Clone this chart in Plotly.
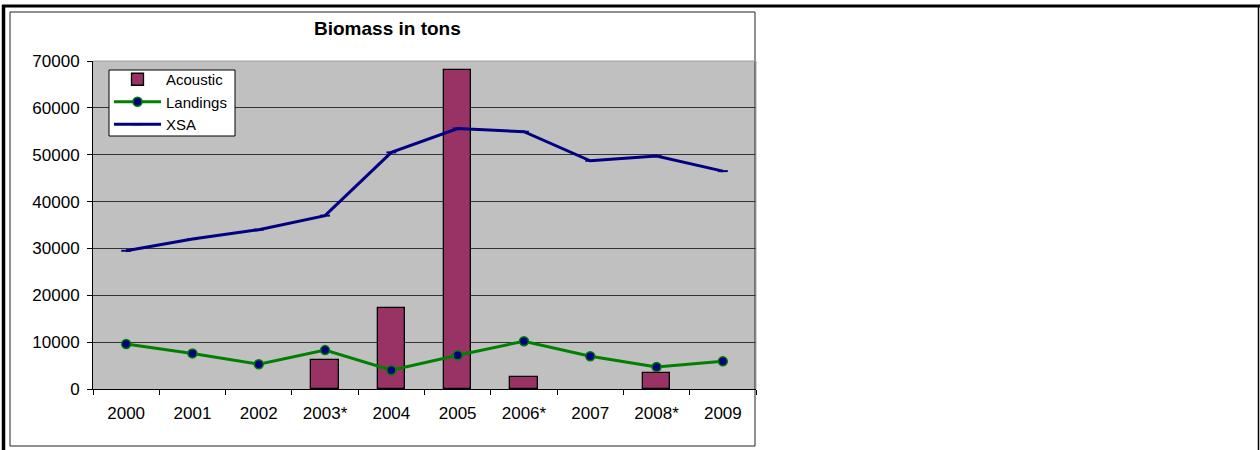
import plotly.graph_objects as go

years = ["2000", "2001", "2002", "2003*", "2004", "2005", "2006*", "2007", "2008*", "2009"]
acoustic = [None, None, None, 6200, 17200, 68000, 2600, None, 3500, None]
landings = [9600, 7600, 5300, 8300, 4000, 7200, 10200, 7000, 4700, 5900]
xsa = [29500, 32000, 34000, 37000, 50500, 55600, 54900, 48700, 49700, 46500]

W, H = 1260, 450
L, R, T, B = 93, 756, 61, 389  # plot area in pixels


def px(x):
    return (x - L) / (R - L)


def py(y):
    return (B - y) / (B - T)


FONT = "Liberation Sans, Arial, sans-serif"

fig = go.Figure()
fig.add_trace(go.Bar(
    x=years, y=acoustic, name="Acoustic", width=0.41,
    marker=dict(color="#993366", line=dict(color="black", width=1.3)),
))
fig.add_trace(go.Scatter(
    x=years, y=landings, name="Landings", mode="lines+markers",
    line=dict(color="#008000", width=3),
    marker=dict(symbol="circle", size=9, color="#000080",
                line=dict(color="#008000", width=1.5)),
))
fig.add_trace(go.Scatter(
    x=years, y=xsa, name="XSA", mode="lines+markers",
    line=dict(color="#000080", width=3),
    marker=dict(symbol="line-ew", size=7, color="#000080",
                line=dict(color="#000080", width=2)),
))

shapes = [
    # inner chart frame
    dict(type="rect", xref="paper", yref="paper",
         x0=px(10), x1=px(755), y0=py(446), y1=py(12),
         line=dict(color="#222222", width=1), layer="below"),
    # outer page frame
    dict(type="line", xref="paper", yref="paper",
         x0=px(2), x1=px(1260), y0=py(6), y1=py(6),
         line=dict(color="black", width=3)),
    dict(type="line", xref="paper", yref="paper",
         x0=px(3.5), x1=px(3.5), y0=py(5), y1=py(452),
         line=dict(color="black", width=3.5)),
    dict(type="line", xref="paper", yref="paper",
         x0=px(1258.5), x1=px(1258.5), y0=py(5), y1=py(452),
         line=dict(color="black", width=1.5)),
    # light border around the plot area (top and right edges)
    dict(type="line", xref="paper", yref="paper", x0=0, x1=1, y0=1, y1=1,
         line=dict(color="#A0A0A0", width=1)),
    dict(type="line", xref="paper", yref="paper", x0=1, x1=1, y0=0, y1=1,
         line=dict(color="#A0A0A0", width=1)),
    # legend box
    dict(type="rect", xref="paper", yref="paper",
         x0=px(109), x1=px(235), y0=py(136), y1=py(70),
         fillcolor="white", line=dict(color="black", width=1), layer="above"),
]

fig.update_layout(
    width=W, height=H,
    margin=dict(l=L, r=W - R, t=T, b=H - B, autoexpand=False),
    paper_bgcolor="white",
    plot_bgcolor="#C0C0C0",
    font=dict(family=FONT, size=17, color="black"),
    bargap=0,
    showlegend=True,
    legend=dict(
        x=px(109), y=py(63), xanchor="left", yanchor="top",
        bgcolor="rgba(0,0,0,0)", borderwidth=0,
        font=dict(family=FONT, size=15, color="black"),
        tracegroupgap=0, itemwidth=47,
    ),
    annotations=[dict(
        text="<b>Biomass in tons</b>", xref="paper", yref="paper",
        x=px(387), y=py(28), xanchor="center", yanchor="middle",
        showarrow=False, font=dict(family=FONT, size=19, color="black"),
    )],
    shapes=shapes,
)

fig.update_xaxes(
    type="category", range=[-0.5, 9.5],
    showline=True, linecolor="black", linewidth=1,
    ticks="outside", tickson="boundaries", ticklen=5, tickcolor="black",
    showgrid=False, ticklabelstandoff=9,
)
fig.update_yaxes(
    range=[0, 70000], tickvals=[0, 10000, 20000, 30000, 40000, 50000, 60000, 70000],
    ticktext=["0", "10000", "20000", "30000", "40000", "50000", "60000", "70000"],
    showline=True, linecolor="black", linewidth=1,
    ticks="outside", ticklen=5, tickcolor="black",
    showgrid=True, gridcolor="#333333", gridwidth=1,
    zeroline=False, ticklabelstandoff=4,
)

fig.write_html("out.html")
